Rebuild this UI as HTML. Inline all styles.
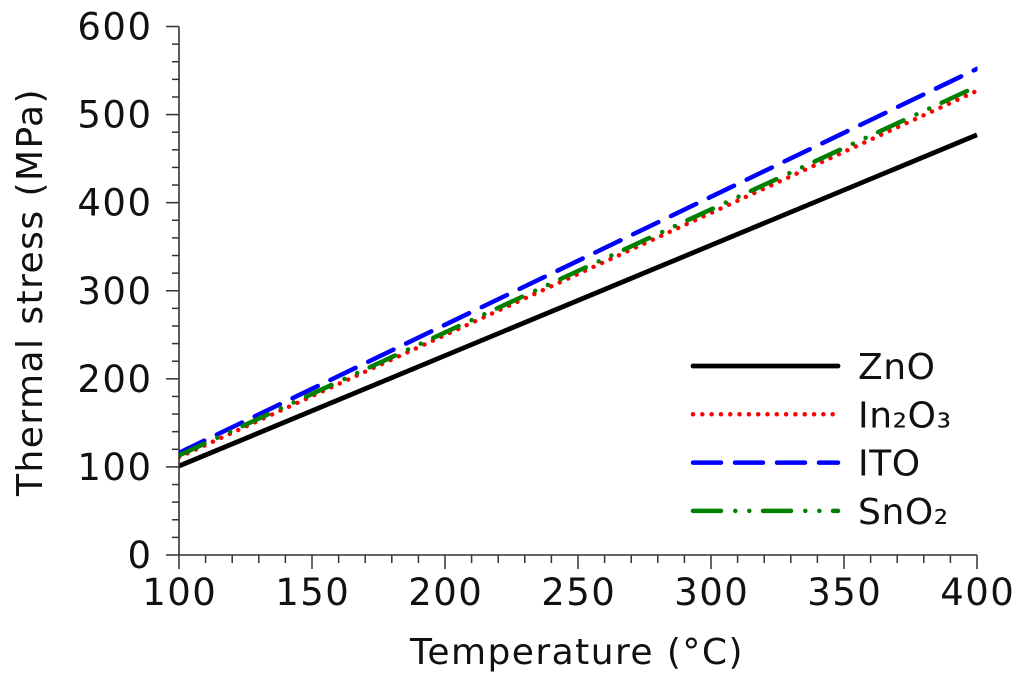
<!DOCTYPE html>
<html>
<head>
<meta charset="utf-8">
<style>
html,body{margin:0;padding:0;background:#fff;}
svg{display:block;}
text{font-family:"DejaVu Sans","Liberation Sans",sans-serif;fill:#111;}
</style>
</head>
<body>
<svg id="chart" width="1024" height="685" viewBox="0 0 1024 685" xmlns="http://www.w3.org/2000/svg">
<defs><clipPath id="plot-clip"><rect x="179" y="20" width="798.5" height="535"/></clipPath></defs>
</svg>
<script>
const temperatures = [100, 400];
const znoValues = [101, 477];
const in2o3Values = [111, 527];
const itoValues = [116, 552];
const sno2Values = [113, 532];
const seriesNames = ['ZnO', 'In₂O₃', 'ITO', 'SnO₂'];
const xTickLabels = [100, 150, 200, 250, 300, 350, 400];
const yTickLabels = [0, 100, 200, 300, 400, 500, 600];
const xMinorStep = 10;
const yMinorStep = 20;

const NS = 'http://www.w3.org/2000/svg';
const svg = document.getElementById('chart');
const L = 179, R = 977, T = 26.5, B = 555;
const xMin = 100, xMax = 400, yMin = 0, yMax = 600;
function sx(v){ return L + (v - xMin) / (xMax - xMin) * (R - L); }
function sy(v){ return B - (v - yMin) / (yMax - yMin) * (B - T); }
function make(tag, attrs, parent){
  const e = document.createElementNS(NS, tag);
  for (const k in attrs) e.setAttribute(k, attrs[k]);
  (parent || svg).appendChild(e);
  return e;
}
const styles = [
  {color:'#000000', width:4.8, dash:null, cap:'butt'},
  {color:'#ff0000', width:4.5, dash:'0.01 9.3', cap:'round'},
  {color:'#0000ff', width:4.5, dash:'28 14', cap:'round'},
  {color:'#008000', width:4.5, dash:'28 14.3 0.01 14 0.01 13.7', cap:'round'}
];
const seriesValues = [znoValues, in2o3Values, itoValues, sno2Values];
const seriesOrder = [0, 1, 2, 3];

/* series */
const seriesGroup = make('g', {'clip-path':'url(#plot-clip)'});


seriesOrder.forEach(function(i){
  const st = styles[i];
  const pts = temperatures.map(function(t, j){ return sx(t) + ',' + sy(seriesValues[i][j]); }).join(' ');
  const line = make('polyline', {points:pts, fill:'none', stroke:st.color, 'stroke-width':st.width, 'stroke-linecap':st.cap}, seriesGroup);
  if (st.dash) line.setAttribute('stroke-dasharray', st.dash);
  
  
});

/* axes */
const axisColor = '#333';
const yAxis = make('line', {x1:L, x2:L, y1:T, y2:B, stroke:axisColor, 'stroke-width':1.6});


const xAxis = make('line', {x1:L, x2:R, y1:B, y2:B, stroke:axisColor, 'stroke-width':1.6});



for (let v = xMin; v <= xMax; v += xMinorStep){
  const major = xTickLabels.indexOf(v) >= 0;
  const t = make('line', {x1:sx(v), x2:sx(v), y1:B, y2:B + (major ? 14 : 8), stroke:axisColor, 'stroke-width':1.5});
  
  
}
for (let v = yMin; v <= yMax; v += yMinorStep){
  const major = yTickLabels.indexOf(v) >= 0;
  const t = make('line', {x1:L - (major ? 13 : 7), x2:L, y1:sy(v), y2:sy(v), stroke:axisColor, 'stroke-width':1.5});
  
  
}
xTickLabels.forEach(function(v){
  const t = make('text', {x:sx(v) + 0.75, y:605, 'text-anchor':'middle', 'font-size':37, 'letter-spacing':1.5});
  t.textContent = v;
  
  
});
yTickLabels.forEach(function(v){
  const t = make('text', {x:152.5, y:sy(v) + 13, 'text-anchor':'end', 'font-size':37, 'letter-spacing':1.5});
  t.textContent = v;
  
  
});

/* axis titles */
const xTitle = make('text', {x:577, y:664, 'text-anchor':'middle', 'font-size':36, 'letter-spacing':1.45});
xTitle.textContent = 'Temperature (°C)';


const yTitle = make('text', {x:0, y:0, 'text-anchor':'middle', 'font-size':36, 'letter-spacing':1.45, transform:'translate(42,292) rotate(-90)'});
yTitle.textContent = 'Thermal stress (MPa)';



/* legend */
const legend = make('g', {});


seriesNames.forEach(function(name, i){
  const st = styles[i];
  const y = 366 + i * 48.3;
  const c = make('line', {x1:693, x2:838, y1:y, y2:y, stroke:st.color, 'stroke-width':st.width, 'stroke-linecap':'round'}, legend);
  if (st.dash) c.setAttribute('stroke-dasharray', st.dash);
  
  
  const t = make('text', {x:858, y:y + 13, 'font-size':36, 'letter-spacing':0.6}, legend);
  t.textContent = name;
  
  
});
</script>
</body>
</html>
